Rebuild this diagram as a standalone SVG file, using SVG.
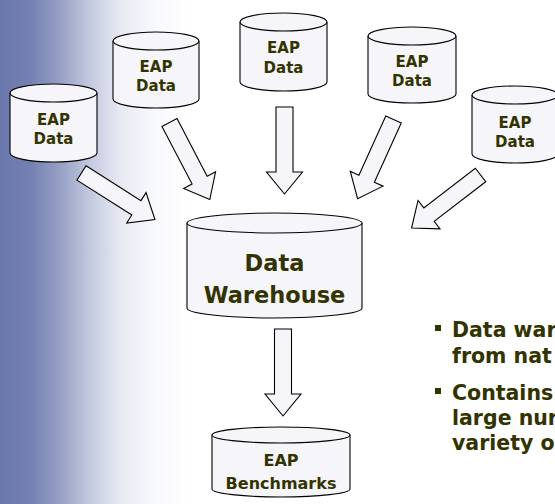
<svg xmlns="http://www.w3.org/2000/svg" xmlns:xlink="http://www.w3.org/1999/xlink" width="555" height="504" viewBox="0 0 555 504">
  <defs>
    <linearGradient id="bg" x1="0" y1="0" x2="555" y2="0" gradientUnits="userSpaceOnUse">
      <stop offset="0" stop-color="#6b78ac"/>
      <stop offset="0.055" stop-color="#7380b1"/>
      <stop offset="0.11" stop-color="#98a1c5"/>
      <stop offset="0.165" stop-color="#c6cbe0"/>
      <stop offset="0.22" stop-color="#e9ebf4"/>
      <stop offset="0.28" stop-color="#f8f9fc"/>
      <stop offset="0.34" stop-color="#ffffff"/>
      <stop offset="1" stop-color="#ffffff"/>
    </linearGradient>
    <!-- block arrow pointing along +x, tail at origin -->
    <path id="blockArrow" d="M0,-8.5 H65 V-18 L87,0 L65,18 V8.5 H0 Z"/>
    <style>
      .cyl { fill: #f5f5fa; stroke: #000; stroke-width: 1.1; }
      .lid { fill: #f5f5fa; stroke: #000; stroke-width: 1.1; }
      .arrow { fill: #f5f5fa; stroke: #000; stroke-width: 1.1; stroke-linejoin: miter; }
      .lbl { font-family: "DejaVu Sans", Verdana, sans-serif; font-weight: bold; fill: #333300; text-anchor: middle; }
      .bullet { font-family: "DejaVu Sans", Verdana, sans-serif; font-weight: bold; fill: #333300; font-size: 20.5px; }
    </style>
  </defs>

  <rect x="0" y="0" width="555" height="504" fill="url(#bg)"/>

  <!-- connectors -->
  <g id="connectors" class="arrow">
    <use xlink:href="#blockArrow" href="#blockArrow" transform="translate(81.5,173) rotate(32.4)"/>
    <use xlink:href="#blockArrow" href="#blockArrow" transform="translate(169.5,122.5) rotate(62.4)"/>
    <use xlink:href="#blockArrow" href="#blockArrow" transform="translate(284.5,107) rotate(90)"/>
    <use xlink:href="#blockArrow" href="#blockArrow" transform="translate(393.5,119.5) rotate(114.4)"/>
    <use xlink:href="#blockArrow" href="#blockArrow" transform="translate(480.5,175) rotate(142.4)"/>
    <use xlink:href="#blockArrow" href="#blockArrow" transform="translate(283,329) rotate(90)"/>
  </g>

  <!-- source stores -->
  <g id="eap1">
    <path class="cyl" d="M10,93 V153 A43.5,9 0 0 0 97,153 V93"/>
    <ellipse class="lid" cx="53.5" cy="93" rx="43.5" ry="9"/>
    <text class="lbl" font-size="15" x="53.5" y="125">EAP</text>
    <text class="lbl" font-size="15" x="53.5" y="144">Data</text>
  </g>
  <g id="eap2">
    <path class="cyl" d="M113,41 V99 A43,9 0 0 0 199,99 V41"/>
    <ellipse class="lid" cx="156" cy="41" rx="43" ry="9"/>
    <text class="lbl" font-size="15" x="156" y="72">EAP</text>
    <text class="lbl" font-size="15" x="156" y="91">Data</text>
  </g>
  <g id="eap3">
    <path class="cyl" d="M240,22 V82 A43.5,9 0 0 0 327,82 V22"/>
    <ellipse class="lid" cx="283.5" cy="22" rx="43.5" ry="9"/>
    <text class="lbl" font-size="15" x="283.5" y="53">EAP</text>
    <text class="lbl" font-size="15" x="283.5" y="73">Data</text>
  </g>
  <g id="eap4">
    <path class="cyl" d="M368,36 V94 A44,9 0 0 0 456,94 V36"/>
    <ellipse class="lid" cx="412" cy="36" rx="44" ry="9"/>
    <text class="lbl" font-size="15" x="412" y="67">EAP</text>
    <text class="lbl" font-size="15" x="412" y="86">Data</text>
  </g>
  <g id="eap5">
    <path class="cyl" d="M472,95 V154 A43,9 0 0 0 558,154 V95"/>
    <ellipse class="lid" cx="515" cy="95" rx="43" ry="9"/>
    <text class="lbl" font-size="15" x="515" y="128">EAP</text>
    <text class="lbl" font-size="15" x="515" y="147">Data</text>
  </g>

  <!-- central warehouse -->
  <g id="warehouse">
    <path class="cyl" d="M187,223 V308 A87.5,10 0 0 0 362,308 V223"/>
    <ellipse class="lid" cx="274.5" cy="223" rx="87.5" ry="10"/>
    <text class="lbl" font-size="22.5" x="274.5" y="271">Data</text>
    <text class="lbl" font-size="22.5" x="274.5" y="303">Warehouse</text>
  </g>

  <!-- benchmark output -->
  <g id="benchmarks">
    <path class="cyl" d="M212,435 V489 A69,8 0 0 0 350,489 V435"/>
    <ellipse class="lid" cx="281" cy="435" rx="69" ry="8"/>
    <text class="lbl" font-size="16" x="281" y="466">EAP</text>
    <text class="lbl" font-size="16" x="281" y="489">Benchmarks</text>
  </g>

  <!-- bullet notes -->
  <g id="notes" class="bullet">
    <rect x="435" y="325" width="6" height="6" fill="#333300"/>
    <text x="452" y="337">Data war</text>
    <text x="452" y="363">from nat</text>
    <rect x="435" y="388" width="6" height="6" fill="#333300"/>
    <text x="452" y="400">Contains</text>
    <text x="452" y="425">large nur</text>
    <text x="452" y="450">variety o</text>
  </g>
</svg>
